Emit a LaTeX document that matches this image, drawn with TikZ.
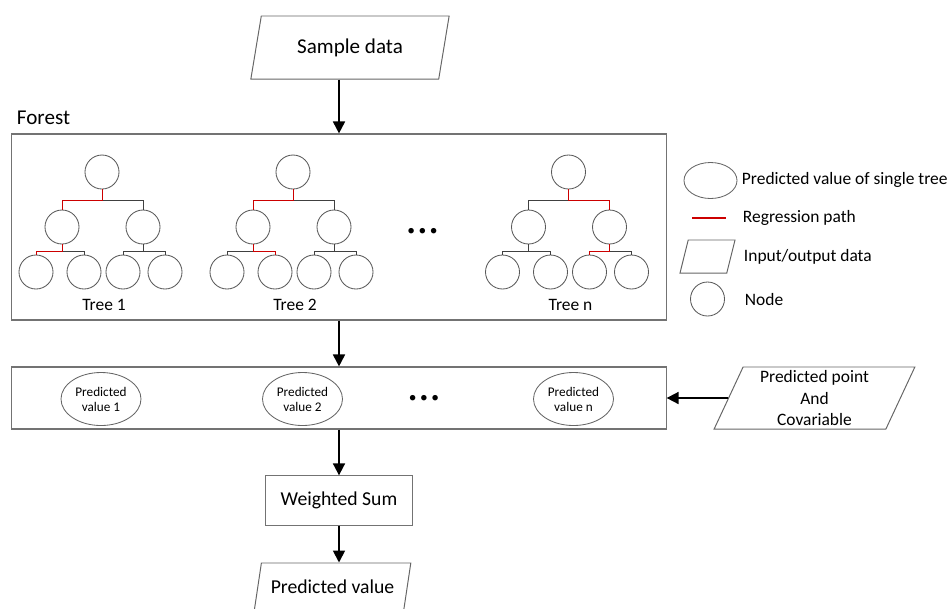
\documentclass[tikz,border=0pt]{standalone}
\usepackage{fontspec}
\setmainfont{Carlito}
\usetikzlibrary{arrows.meta, shapes.geometric}

\begin{document}
\begin{tikzpicture}[x=0.025cm, y=-0.025cm, >={Triangle[length=8.5pt,width=8.5pt]},
    flow/.style={->, line width=1.3pt},
    box/.style={draw=black!55, line width=0.8pt, inner sep=0pt},
    io/.style={trapezium, trapezium stretches=true, draw=black!60, line width=0.7pt,
      inner sep=1pt, align=center},
    treenode/.style={circle, draw=black!65, line width=0.6pt, minimum size=0.85cm, inner sep=0pt},
    branch/.style={draw=black!75, line width=0.5pt},
    regpath/.style={draw=red!80!black, line width=0.6pt},
    predval/.style={ellipse, draw=black!60, line width=0.6pt, minimum width=2cm,
      minimum height=1.325cm, inner sep=0pt, align=center,
      font=\fontsize{9.4pt}{10.6pt}\selectfont},
    treelab/.style={font=\fontsize{12.4pt}{15pt}\selectfont},
    keytext/.style={anchor=west, font=\fontsize{12.4pt}{15pt}\selectfont},
    dots/.style={font=\fontsize{11pt}{13pt}\selectfont}]
  \useasboundingbox (0,0) rectangle (948,608);
  \clip (0,0) rectangle (948,608);

  % input, forest and outputs
  \node[io, trapezium left angle=73, trapezium right angle=107, minimum width=5cm,
    minimum height=1.575cm, font=\fontsize{15pt}{18pt}\selectfont] (sample) at (350,47.5) {Sample data};
  \node[anchor=west, font=\fontsize{15pt}{18pt}\selectfont] (forestlab) at (12,118) {Forest};
  \node[box, minimum width=16.35cm, minimum height=4.65cm] (forest) at (339,227) {};
  \node[box, minimum width=16.35cm, minimum height=1.55cm] (row) at (339,398) {};
  \node[box, minimum width=3.675cm, minimum height=1.23cm,
    font=\fontsize{14pt}{17pt}\selectfont] (wsum) at (339,500.5) {Weighted Sum};
  \node[io, trapezium left angle=69, trapezium right angle=111, minimum width=3.92cm,
    minimum height=1.2cm, font=\fontsize{14pt}{17pt}\selectfont] (result) at (332.5,587) {Predicted value};
  \node[io, trapezium left angle=69, trapezium right angle=111, minimum width=5.025cm,
    minimum height=1.55cm, font=\fontsize{12.4pt}{15.6pt}\selectfont] (point) at (814.5,398)
    {Predicted point\\And\\Covariable};

  % the trees
  \foreach \t/\dx in {1/0, 2/191, n/466.5} {
    \node[treenode] (root\t) at (102+\dx,172) {};
    \node[treenode] (left\t) at (62+\dx,227) {};
    \node[treenode] (right\t) at (143+\dx,227) {};
    \node[treenode] (leafa\t) at (36+\dx,272) {};
    \node[treenode] (leafb\t) at (84+\dx,272) {};
    \node[treenode] (leafc\t) at (123+\dx,272) {};
    \node[treenode] (leafd\t) at (165+\dx,272) {};
    \node[treelab] (lab\t) at (104+\dx,305) {Tree \t};

    \draw[branch] (root\t) -- ++(0,28) -| (left\t);
    \draw[branch] (root\t) -- ++(0,28) -| (right\t);
    \draw[branch] (left\t) -- ++(0,24) -| (leafa\t);
    \draw[branch] (left\t) -- ++(0,24) -| (leafb\t);
    \draw[branch] (right\t) -- ++(0,24) -| (leafc\t);
    \draw[branch] (right\t) -- ++(0,24) -| (leafd\t);
  }

  % regression paths
  \draw[regpath] (root1) -- ++(0,28) -| (left1);
  \draw[regpath] (left1) -- ++(0,24) -| (leafa1);
  \draw[regpath] (root2) -- ++(0,28) -| (left2);
  \draw[regpath] (left2) -- ++(0,24) -| (leafb2);
  \draw[regpath] (rootn) -- ++(0,28) -| (rightn);
  \draw[regpath] (rightn) -- ++(0,24) -| (leafcn);

  \node[dots] (treedots) at (422.5,232) {• • •};

  % one value per tree
  \node[predval] (pv1) at (101,399) {Predicted\\value 1};
  \node[predval] (pv2) at (302.5,399) {Predicted\\value 2};
  \node[predval] (pvn) at (573.5,399) {Predicted\\value n};
  \node[dots] (valdots) at (424,399) {• • •};

  % key
  \node[ellipse, draw=black!60, line width=0.6pt, minimum width=1.325cm, minimum height=0.9cm]
    (keyval) at (710.5,180.5) {};
  \node[keytext] (keyvaltext) at (737,180) {Predicted value of single tree};
  \draw[regpath, line width=1pt] (692,218) -- (726,218);
  \node[keytext] (keypathtext) at (738,218) {Regression path};
  \node[io, trapezium left angle=78, trapezium right angle=102, minimum width=1.375cm,
    minimum height=0.825cm, inner sep=3pt] (keyio) at (707.5,256.5) {};
  \node[keytext] (keyiotext) at (739,257) {Input/output data};
  \node[treenode] (keynode) at (707.5,299) {};
  \node[keytext] (keynodetext) at (740,299) {Node};

  % flow
  \draw[flow] (sample.south -| wsum) -- (forest.north -| wsum);
  \draw[flow] (forest.south -| wsum) -- (row.north -| wsum);
  \draw[flow] (point) -- (row);
  \draw[flow] (row.south -| wsum) -- (wsum);
  \draw[flow] (wsum) -- (result.north -| wsum);
\end{tikzpicture}
\end{document}
